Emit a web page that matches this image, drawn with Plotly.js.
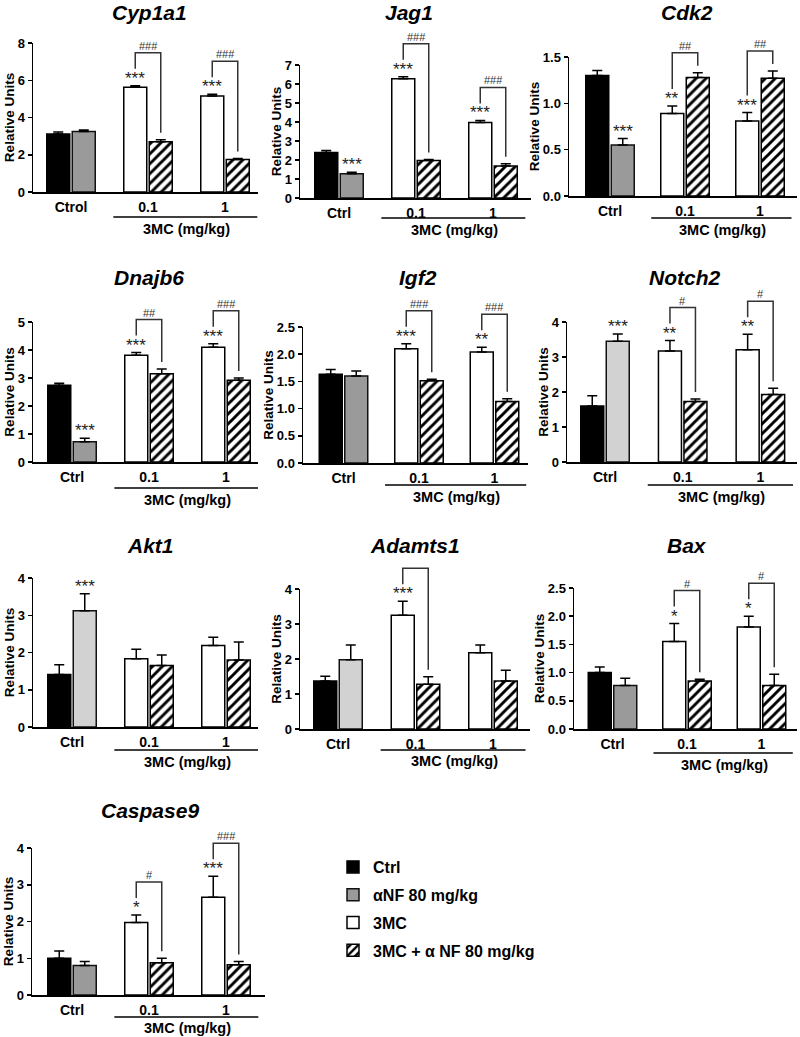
<!DOCTYPE html>
<html>
<head>
<meta charset="utf-8">
<script src="https://cdn.plot.ly/plotly-3.0.1.min.js"></script>
<style>html,body{margin:0;padding:0;background:#fff;}#chart{width:800px;height:1037px;}</style>
</head>
<body>
<div id="chart"></div>
<script>
// ---------------- data ----------------
const genes = ['Cyp1a1','Jag1','Cdk2','Dnajb6','Igf2','Notch2','Akt1','Adamts1','Bax','Caspase9'];
const ctrlTickLabels = ['Ctrol','Ctrl','Ctrl','Ctrl','Ctrl','Ctrl','Ctrl','Ctrl','Ctrl','Ctrl'];
const doseLabels = ['0.1','1'];
const seriesNames = ['Ctrl','\u03b1NF 80 mg/kg','3MC','3MC + \u03b1 NF 80 mg/kg'];

const ctrlMean = [3.12, 2.40, 1.30, 2.74, 1.63, 1.60, 1.41, 1.37, 1.00, 1.00];
const ctrlErr  = [0.10, 0.10, 0.055, 0.07, 0.09, 0.29, 0.26, 0.14, 0.10, 0.20];
const anfMean  = [3.25, 1.28, 0.55, 0.72, 1.60, 3.45, 3.12, 1.98, 0.77, 0.80];
const anfErr   = [0.08, 0.07, 0.07, 0.13, 0.09, 0.21, 0.46, 0.42, 0.13, 0.11];
const mcMean   = [[5.62,5.15],[6.28,3.98],[0.89,0.81],[3.81,4.10],[2.10,2.04],[3.17,3.21],[1.83,2.19],[3.25,2.18],[1.55,1.81],[1.97,2.66]];
const mcErr    = [[0.08,0.10],[0.10,0.10],[0.08,0.09],[0.10,0.12],[0.09,0.09],[0.30,0.44],[0.26,0.22],[0.40,0.22],[0.32,0.19],[0.21,0.57]];
const comboMean= [[2.70,1.75],[1.98,1.68],[1.28,1.27],[3.15,2.92],[1.51,1.13],[1.73,1.93],[1.65,1.80],[1.28,1.37],[0.85,0.77],[0.88,0.82]];
const comboErr = [[0.10,0.05],[0.05,0.12],[0.05,0.08],[0.17,0.08],[0.03,0.05],[0.07,0.18],[0.28,0.48],[0.21,0.31],[0.03,0.20],[0.12,0.09]];
const anfStars = ['','***','***','***','','***','***','','',''];
const mcStars  = [['***','***'],['***','***'],['**','***'],['***','***'],['***','**'],['**','**'],['',''],['***',''],['*','*'],['*','***']];
const hashLabels = [['###','###'],['###','###'],['##','##'],['##','###'],['###','###'],['#','#'],[null,null],['',null],['#','#'],['#','###']];

// ---------------- layout geometry (pixels) ----------------
const W = 800, H = 1037;
const geo = [
 {ax0:33,  ax1:258, c0:71,    sp:77,   yTop:43,  yZero:192, top:8,   dt:2,   tx:149, ty:13,  lo:25, to:37, gray:'#9a9a9a'},
 {ax0:300, ax1:531, c0:339,   sp:77,   yTop:65,  yZero:198, top:7,   dt:1,   tx:409, ty:12,  lo:20, to:32, gray:'#9a9a9a'},
 {ax0:569, ax1:797, c0:610,   sp:75,   yTop:57,  yZero:196, top:1.5, dt:0.5, tx:687, ty:12,  lo:22, to:34, gray:'#9a9a9a'},
 {ax0:33,  ax1:258, c0:72,    sp:77,   yTop:322, yZero:462, top:5,   dt:1,   tx:149, ty:277, lo:26, to:38, gray:'#9a9a9a'},
 {ax0:303, ax1:528, c0:343.5, sp:75.5, yTop:327, yZero:463, top:2.5, dt:0.5, tx:418, ty:277, lo:22, to:34, gray:'#9a9a9a'},
 {ax0:567, ax1:797, c0:605,   sp:77.7, yTop:322, yZero:462, top:4,   dt:1,   tx:684, ty:277, lo:23, to:35, gray:'#d2d2d2'},
 {ax0:33,  ax1:258, c0:72,    sp:77,   yTop:578, yZero:727, top:4,   dt:1,   tx:150, ty:545, lo:23, to:35, gray:'#d2d2d2'},
 {ax0:300, ax1:530, c0:338,   sp:77.5, yTop:589, yZero:729, top:4,   dt:1,   tx:415, ty:545, lo:21, to:32, gray:'#d2d2d2'},
 {ax0:574, ax1:797, c0:612.5, sp:74.5, yTop:588, yZero:729, top:2.5, dt:0.5, tx:687, ty:545, lo:24, to:36, gray:'#9a9a9a'},
 {ax0:32,  ax1:265, c0:72,    sp:77,   yTop:848, yZero:995, top:4,   dt:1,   tx:150, ty:810, lo:22, to:33, gray:'#9a9a9a'}
];

const FONT = 'Liberation Sans, Arial, Helvetica, sans-serif';
const px = x => x / W;
const py = y => 1 - y / H;

const traces = [];
const layout = {
  width: W, height: H,
  margin: {l:0, r:0, t:0, b:0},
  paper_bgcolor: '#fff', plot_bgcolor: 'rgba(0,0,0,0)',
  barmode: 'overlay',
  showlegend: true,
  legend: {
    x: px(333), y: py(850), xanchor: 'left', yanchor: 'top',
    font: {family: FONT, size: 16, color: '#000', weight: 'bold'},
    tracegroupgap: 4, traceorder: 'grouped', bgcolor: 'rgba(0,0,0,0)'
  },
  font: {family: FONT, color: '#000'},
  shapes: [], annotations: []
};

const hatch = {shape: '/', fgcolor: '#000', bgcolor: '#fff', size: 7, solidity: 0.42};

geo.forEach((g, i) => {
  const n = i + 1;
  const xa = 'x' + (n === 1 ? '' : n), ya = 'y' + (n === 1 ? '' : n);
  const xKey = 'xaxis' + (n === 1 ? '' : n), yKey = 'yaxis' + (n === 1 ? '' : n);
  const hpx = g.yZero - g.yTop;                  // axis height in px
  const toDom = v => v / g.top;                   // data value -> fraction of y domain
  const w = 23 / g.sp, gap = 2.5 / g.sp;
  const offL = -w - gap / 2, offR = gap / 2;
  const xr0 = (g.ax0 - g.c0) / g.sp, xr1 = (g.ax1 - g.c0) / g.sp;

  const tickvals = [];
  for (let v = 0; v <= g.top + 1e-9; v += g.dt) tickvals.push(+v.toFixed(2));

  layout[xKey] = {
    domain: [px(g.ax0), px(g.ax1)], anchor: ya, range: [xr0, xr1],
    showline: true, linecolor: '#000', linewidth: 1.5, showgrid: false, zeroline: false,
    ticks: '', tickvals: [0, 1, 2], ticktext: [ctrlTickLabels[i]].concat(doseLabels),
    tickfont: {family: FONT, size: 14, color: '#000', weight: 'bold'}, ticklabelstandoff: 2,
    fixedrange: true
  };
  layout[yKey] = {
    domain: [py(g.yZero), py(g.yTop)], anchor: xa, range: [0, g.top],
    showline: true, linecolor: '#000', linewidth: 1.5, showgrid: false, zeroline: false,
    ticks: 'outside', ticklen: 4, tickwidth: 1.5, tickcolor: '#000',
    tickvals: tickvals, tickformat: g.dt < 1 ? '.1f' : 'd',
    tickfont: {family: FONT, size: 13, color: '#000', weight: 'bold'},
    title: {text: 'Relative Units', font: {family: FONT, size: 13.5, color: '#000', weight: 'bold'}, standoff: 0},
    fixedrange: true
  };

  const ebar = (arr) => ({type: 'data', symmetric: false, array: arr, arrayminus: arr.map(() => 0),
                          color: '#000', thickness: 1.5, width: 5});
  const common = {type: 'bar', xaxis: xa, yaxis: ya, width: w, hoverinfo: 'y', showlegend: i === 0, cliponaxis: false};
  const mcVals = mcMean[i], mcE = mcErr[i], coVals = comboMean[i], coE = comboErr[i];

  traces.push(Object.assign({}, common, {
    name: seriesNames[0], legendgroup: 'a', x: [0], y: [ctrlMean[i]], offset: offL,
    marker: {color: '#000', line: {color: '#000', width: 1.5}}, error_y: ebar([ctrlErr[i]])}));
  traces.push(Object.assign({}, common, {
    name: seriesNames[1], legendgroup: 'b', x: [0], y: [anfMean[i]], offset: offR,
    marker: {color: g.gray, line: {color: '#111', width: 1.5}}, error_y: ebar([anfErr[i]])}));
  traces.push(Object.assign({}, common, {
    name: seriesNames[2], legendgroup: 'c', x: [1, 2], y: mcVals, offset: offL,
    marker: {color: '#fff', line: {color: '#000', width: 1.5}}, error_y: ebar(mcE)}));
  traces.push(Object.assign({}, common, {
    name: seriesNames[3], legendgroup: 'd', x: [1, 2], y: coVals, offset: offR,
    marker: {color: '#fff', pattern: hatch, line: {color: '#000', width: 1.5}}, error_y: ebar(coE)}));

  // line under doses + "3MC (mg/kg)"
  layout.shapes.push({type: 'line', xref: xa, yref: 'paper', x0: 0.55, x1: Math.min(2.42, xr1),
                      y0: py(g.yZero + g.lo), y1: py(g.yZero + g.lo), line: {color: '#000', width: 1.3}});
  layout.annotations.push({xref: xa, yref: 'paper', x: 1.5, y: py(g.yZero + g.to), text: '3MC (mg/kg)',
                           xanchor: 'center', yanchor: 'middle',
                           showarrow: false, font: {family: FONT, size: 14.5, color: '#000', weight: 'bold'}});
  // gene title
  layout.annotations.push({xref: 'paper', yref: 'paper', x: px(g.tx), y: py(g.ty), text: genes[i],
                           xanchor: 'center', yanchor: 'middle',
                           showarrow: false, font: {family: FONT, size: 21, color: '#000', weight: 'bold', style: 'italic'}});

  const starFont = {family: FONT, size: 17, color: '#222'};
  const cL = offL + w / 2, cR = offR + w / 2;
  if (anfStars[i]) {
    layout.annotations.push({xref: xa, yref: ya, x: cR, y: anfMean[i] + anfErr[i], text: anfStars[i],
      showarrow: false, xanchor: 'center', yanchor: 'bottom', yshift: -4, font: starFont});
  }
  [0, 1].forEach(d => {
    const xc = d + 1;
    const wTop = mcVals[d] + mcE[d], hTop = coVals[d] + coE[d];
    if (mcStars[i][d]) {
      layout.annotations.push({xref: xa, yref: ya, x: xc + cL, y: wTop, text: mcStars[i][d],
        showarrow: false, xanchor: 'center', yanchor: 'bottom', yshift: -4, font: starFont});
    }
    const lab = hashLabels[i][d];
    if (lab !== null) {
      // bracket levels: data tops converted to the axis' domain fraction, plus pixel gaps
      const top = Math.max(toDom(wTop) + 33 / hpx, toDom(hTop) + 20 / hpx);
      const lb = toDom(wTop) + 17 / hpx, rb = toDom(hTop) + 7 / hpx;
      const xl = xc + cL, xr = xc + cR;
      layout.shapes.push({type: 'path', xref: xa, yref: ya + ' domain',
        path: `M${xl},${lb} L${xl},${top} L${xr},${top} L${xr},${rb}`,
        line: {color: '#333', width: 1.5}});
      if (lab) {
        layout.annotations.push({xref: xa, yref: ya + ' domain', x: (xl + xr) / 2, y: top, text: lab,
          showarrow: false, xanchor: 'center', yanchor: 'bottom', yshift: -1,
          font: {family: FONT, size: 11, color: '#333'}});
      }
    }
  });
});

Plotly.newPlot('chart', traces, layout, {staticPlot: true, displayModeBar: false});
</script>
</body>
</html>
